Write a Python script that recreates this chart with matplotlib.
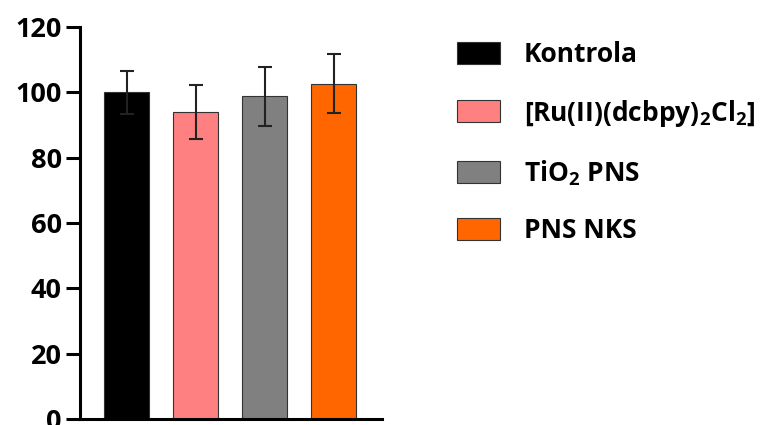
import numpy as np
import matplotlib
matplotlib.use("Agg")
import matplotlib.pyplot as plt

labels = ['Kontrola', '[Ru(II)(dcbpy)$_2$Cl$_2$]', 'TiO$_2$ PNS', 'PNS NKS']
means = [100.0, 94.0, 98.8, 102.7]
errors = [6.5, 8.2, 9.0, 9.0]
colors = ['#000000', '#FF8080', '#808080', '#FF6600']
yticks = [0, 20, 40, 60, 80, 100, 120]

plt.rcParams['font.family'] = ['Open Sans', 'DejaVu Sans']
plt.rcParams['font.weight'] = 'bold'
plt.rcParams['mathtext.fontset'] = 'custom'
plt.rcParams['mathtext.rm'] = 'Open Sans:bold'
plt.rcParams['mathtext.default'] = 'rm'

W, H = 778, 425
fig = plt.figure(figsize=(W / 100, H / 100), dpi=100)
ax = fig.add_axes([80 / W, (H - 419) / H, 302 / W, 392 / H])

x = np.arange(len(means))
bars = ax.bar(x, means, width=0.65, color=colors, edgecolor='#333333',
              linewidth=0.8, label=labels, zorder=2)
ax.errorbar(x, means, yerr=errors, fmt='none', ecolor='#222222',
            elinewidth=1.5, capsize=4.7, capthick=1.5, zorder=3)

ax.set_xlim(-0.68, 3.7)
ax.set_ylim(0, 120)
ax.set_yticks(yticks)
ax.set_xticks([])
for s in ['top', 'right']:
    ax.spines[s].set_visible(False)
for s in ['left', 'bottom']:
    ax.spines[s].set_linewidth(2.2)
ax.tick_params(axis='y', length=10, width=2.2, labelsize=19.5, pad=3)
for t in ax.get_yticklabels():
    t.set_fontweight('bold')

leg = fig.legend(handles=bars, labels=labels, loc='upper left',
                 bbox_to_anchor=(457 / W, 1 - 41 / H), frameon=False,
                 fontsize=19, handlelength=1.63, handleheight=0.91,
                 labelspacing=1.12, handletextpad=0.9, borderpad=0,
                 borderaxespad=0)
for t in leg.get_texts():
    t.set_fontweight('bold')

fig.savefig('out.png', dpi=100)
